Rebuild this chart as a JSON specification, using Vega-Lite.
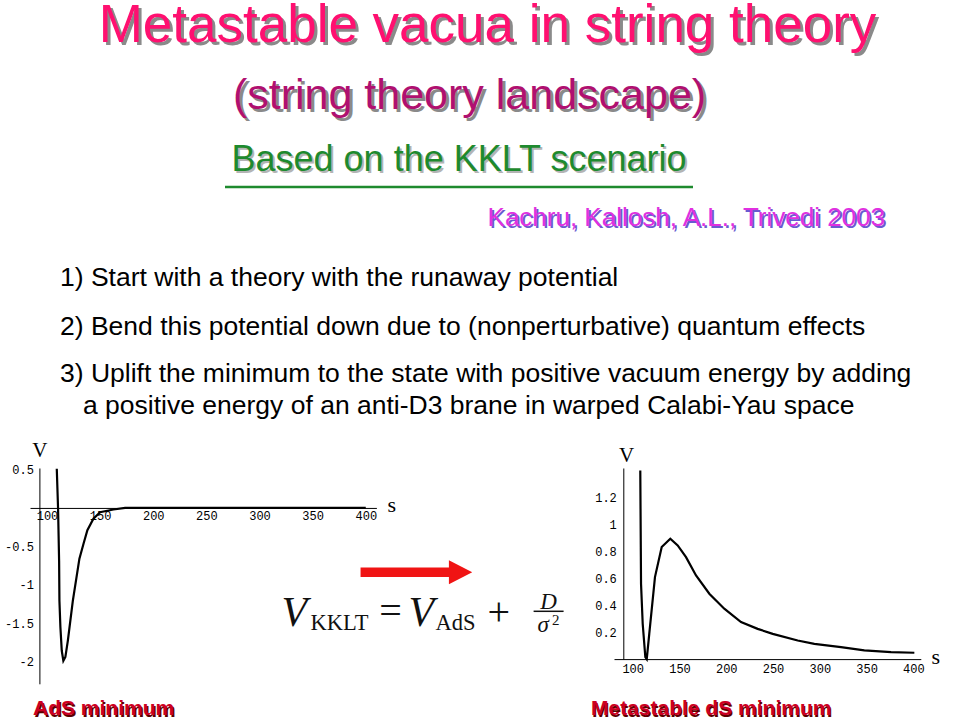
{
  "$schema": "https://vega.github.io/schema/vega-lite/v6.json",
  "background": "white",
  "padding": 0,
  "autosize": {"type": "pad"},
  "bounds": "flush",
  "spacing": 0,
  "columns": 4,
  "align": "each",
  "config": {
    "view": {"stroke": null},
    "title": {"offset": 0, "frame": "group", "font": "Liberation Sans", "fontWeight": "normal"}
  },
  "concat": [
    {"width": 30, "height": 56, "data": {"values": []}, "mark": "text"},
    {"width": 1, "height": 1, "data": {"values": []}, "mark": "text"},
    {"width": 1, "height": 1, "data": {"values": []}, "mark": "text"},
    {"width": 1, "height": 1, "data": {"values": []}, "mark": "text"},

    {"width": 30, "height": 65, "data": {"values": []}, "mark": "text",
     "title": {"text": "Metastable vacua in string theory", "fontSize": 53, "color": "#8a8a8a", "anchor": "middle", "dx": 475.5, "dy": 3}},
    {"width": 1, "height": 1, "data": {"values": []}, "mark": "text",
     "title": {"text": "Metastable vacua in string theory", "fontSize": 53, "color": "#ff1070", "anchor": "middle", "dx": 457}},
    {"width": 1, "height": 1, "data": {"values": []}, "mark": "text"},
    {"width": 1, "height": 1, "data": {"values": []}, "mark": "text"},

    {"width": 30, "height": 61, "data": {"values": []}, "mark": "text",
     "title": {"text": "(string theory landscape)", "fontSize": 43, "color": "#8a8a8a", "anchor": "middle", "dx": 457.5, "dy": 3}},
    {"width": 1, "height": 1, "data": {"values": []}, "mark": "text",
     "title": {"text": "(string theory landscape)", "fontSize": 43, "color": "#b01070", "anchor": "middle", "dx": 439}},
    {"width": 1, "height": 1, "data": {"values": []}, "mark": "text"},
    {"width": 1, "height": 1, "data": {"values": []}, "mark": "text"},

    {"width": 30, "height": 3, "data": {"values": []}, "mark": "text",
     "title": {"text": "Based on the KKLT scenario", "fontSize": 36, "color": "#b4b4b4", "anchor": "middle", "dx": 446, "dy": 2}},
    {"width": 1, "height": 1, "data": {"values": []}, "mark": "text",
     "title": {"text": "Based on the KKLT scenario", "fontSize": 36, "color": "#1e8a2e", "anchor": "middle", "dx": 428.5}},
    {"width": 1, "height": 1, "data": {"values": []}, "mark": "text"},
    {"width": 1, "height": 1, "data": {"values": []}, "mark": "text"},

    {"width": 30, "height": 48.5,
     "data": {"values": [{"part": "underline"}]},
     "mark": {"type": "rule", "color": "#1e8a2e", "strokeWidth": 2.5},
     "encoding": {
       "x": {"datum": 225, "type": "quantitative", "scale": {"domain": [0, 30], "nice": false, "zero": false}, "axis": null},
       "x2": {"datum": 693},
       "y": {"datum": 1, "type": "quantitative", "scale": {"domain": [0, 48.5], "nice": false, "zero": false, "reverse": true}, "axis": null}
     }},
    {"width": 1, "height": 1, "data": {"values": []}, "mark": "text"},
    {"width": 1, "height": 1, "data": {"values": []}, "mark": "text"},
    {"width": 1, "height": 1, "data": {"values": []}, "mark": "text"},

    {"width": 30, "height": 59.8, "data": {"values": []}, "mark": "text",
     "title": {"text": "Kachru, Kallosh, A.L., Trivedi 2003", "fontSize": 26, "color": "#6a5ad0", "anchor": "end", "dx": 857, "dy": 2}},
    {"width": 1, "height": 1, "data": {"values": []}, "mark": "text",
     "title": {"text": "Kachru, Kallosh, A.L., Trivedi 2003", "fontSize": 26, "color": "#e030e0", "anchor": "end", "dx": 854}},
    {"width": 1, "height": 1, "data": {"values": []}, "mark": "text"},
    {"width": 1, "height": 1, "data": {"values": []}, "mark": "text"},

    {"width": 30, "height": 48.4, "data": {"values": []}, "mark": "text",
     "title": {"text": "1) Start with a theory with the runaway potential", "fontSize": 26.5, "color": "#000000", "anchor": "start", "dx": 60}},
    {"width": 1, "height": 1, "data": {"values": []}, "mark": "text"},
    {"width": 1, "height": 1, "data": {"values": []}, "mark": "text"},
    {"width": 1, "height": 1, "data": {"values": []}, "mark": "text"},

    {"width": 30, "height": 46.6, "data": {"values": []}, "mark": "text",
     "title": {"text": "2) Bend this potential down due to (nonperturbative) quantum effects", "fontSize": 26.5, "color": "#000000", "anchor": "start", "dx": 60}},
    {"width": 1, "height": 1, "data": {"values": []}, "mark": "text"},
    {"width": 1, "height": 1, "data": {"values": []}, "mark": "text"},
    {"width": 1, "height": 1, "data": {"values": []}, "mark": "text"},

    {"width": 30, "height": 31.7, "data": {"values": []}, "mark": "text",
     "title": {"text": "3) Uplift the minimum to the state with positive vacuum energy by adding", "fontSize": 26.5, "color": "#000000", "anchor": "start", "dx": 60}},
    {"width": 1, "height": 1, "data": {"values": []}, "mark": "text"},
    {"width": 1, "height": 1, "data": {"values": []}, "mark": "text"},
    {"width": 1, "height": 1, "data": {"values": []}, "mark": "text"},

    {"width": 30, "height": 44.2, "data": {"values": []}, "mark": "text",
     "title": {"text": "a positive energy of an anti-D3 brane in warped Calabi-Yau space", "fontSize": 26.5, "color": "#000000", "anchor": "start", "dx": 83}},
    {"width": 1, "height": 1, "data": {"values": []}, "mark": "text"},
    {"width": 1, "height": 1, "data": {"values": []}, "mark": "text"},
    {"width": 1, "height": 1, "data": {"values": []}, "mark": "text"},

    {"width": 30, "height": 254.8, "data": {"values": []}, "mark": "text"},
    {
      "width": 346.4, "height": 215.8,
      "data": {"values": [
        {"s": 109.2, "V": 0.51}, {"s": 110.4, "V": 0.0}, {"s": 111.4, "V": -0.69}, {"s": 111.7, "V": -1.21},
        {"s": 112.6, "V": -1.55}, {"s": 113.9, "V": -1.86}, {"s": 115.4, "V": -1.99}, {"s": 117.3, "V": -1.94},
        {"s": 119.6, "V": -1.73}, {"s": 124.3, "V": -1.21}, {"s": 130.5, "V": -0.66}, {"s": 134.3, "V": -0.47},
        {"s": 138.0, "V": -0.29}, {"s": 143.7, "V": -0.14}, {"s": 150.0, "V": -0.055}, {"s": 162.5, "V": -0.02},
        {"s": 173.5, "V": 0.0}, {"s": 200, "V": 0.0}, {"s": 250, "V": 0.0}, {"s": 300, "V": 0.0},
        {"s": 350, "V": 0.0}, {"s": 400, "V": 0.0}
      ]},
      "mark": {"type": "line", "color": "#000000", "strokeWidth": 2.2},
      "encoding": {
        "x": {"field": "s", "type": "quantitative",
              "scale": {"domain": [84, 410], "nice": false, "zero": false},
              "axis": {"orient": "bottom", "offset": -175.87, "values": [100, 150, 200, 250, 300, 350, 400], "format": "d",
                       "grid": false, "ticks": false, "labelPadding": 3, "labelFont": "Liberation Mono", "labelFontSize": 12,
                       "labelColor": "#000000", "domainColor": "#000000", "labelOverlap": false, "labelFlush": false,
                       "title": "s", "titleFont": "Liberation Serif", "titleFontSize": 22, "titleFontWeight": "normal",
                       "titleColor": "#000000", "titleX": 357, "titleY": -3.5, "titleAlign": "left", "titleBaseline": "middle"}},
        "y": {"field": "V", "type": "quantitative",
              "scale": {"domain": [-2.29, 0.52], "nice": false, "zero": false},
              "axis": {"orient": "left", "offset": -9.4, "values": [0.5, -0.5, -1, -1.5, -2], "labelExpr": "toString(datum.value)",
                       "grid": false, "ticks": false, "labelPadding": 6, "labelFont": "Liberation Mono", "labelFontSize": 12,
                       "labelColor": "#000000", "domainColor": "#000000", "labelOverlap": false, "labelFlush": false,
                       "title": "V", "titleAngle": 0, "titleFont": "Liberation Serif", "titleFontSize": 21, "titleFontWeight": "normal",
                       "titleColor": "#000000", "titleX": 0, "titleY": -12, "titleAlign": "center", "titleBaseline": "alphabetic"}}
      }
    },
    {
      "width": 236.6, "height": 215.8,
      "layer": [
        {"data": {"values": [{"k": "arrow"}]},
         "mark": {"type": "point", "shape": "M-1,-0.084L0.582,-0.084L0.582,-0.215L1,0L0.582,0.215L0.582,0.084L-1,0.084Z",
                  "filled": true, "fill": "#f01414", "opacity": 1, "strokeWidth": 0, "size": 12477},
         "encoding": {
           "x": {"datum": 415.8, "type": "quantitative", "scale": {"domain": [376.4, 613], "nice": false, "zero": false}, "axis": null},
           "y": {"datum": 568.5, "type": "quantitative", "scale": {"domain": [464.2, 680], "nice": false, "zero": false, "reverse": true}, "axis": null}
         }},
        {"data": {"values": [{"t": "V"}]},
         "mark": {"type": "text", "font": "Liberation Serif", "fontStyle": "italic", "fontSize": 42, "align": "left", "baseline": "alphabetic", "color": "#111111"},
         "encoding": {"x": {"datum": 281, "type": "quantitative"}, "y": {"datum": 622, "type": "quantitative"}, "text": {"field": "t"}}},
        {"data": {"values": [{"t": "KKLT"}]},
         "mark": {"type": "text", "font": "Liberation Serif", "fontSize": 22.5, "align": "left", "baseline": "alphabetic", "color": "#111111"},
         "encoding": {"x": {"datum": 310, "type": "quantitative"}, "y": {"datum": 626, "type": "quantitative"}, "text": {"field": "t"}}},
        {"data": {"values": [{"t": "="}]},
         "mark": {"type": "text", "font": "Liberation Serif", "fontSize": 40, "align": "center", "baseline": "alphabetic", "color": "#111111"},
         "encoding": {"x": {"datum": 390, "type": "quantitative"}, "y": {"datum": 620, "type": "quantitative"}, "text": {"field": "t"}}},
        {"data": {"values": [{"t": "V"}]},
         "mark": {"type": "text", "font": "Liberation Serif", "fontStyle": "italic", "fontSize": 42, "align": "left", "baseline": "alphabetic", "color": "#111111"},
         "encoding": {"x": {"datum": 408, "type": "quantitative"}, "y": {"datum": 622, "type": "quantitative"}, "text": {"field": "t"}}},
        {"data": {"values": [{"t": "AdS"}]},
         "mark": {"type": "text", "font": "Liberation Serif", "fontSize": 22.5, "align": "left", "baseline": "alphabetic", "color": "#111111"},
         "encoding": {"x": {"datum": 435, "type": "quantitative"}, "y": {"datum": 626, "type": "quantitative"}, "text": {"field": "t"}}},
        {"data": {"values": [{"t": "+"}]},
         "mark": {"type": "text", "font": "Liberation Serif", "fontSize": 40, "align": "center", "baseline": "alphabetic", "color": "#111111"},
         "encoding": {"x": {"datum": 498.3, "type": "quantitative"}, "y": {"datum": 621, "type": "quantitative"}, "text": {"field": "t"}}},
        {"data": {"values": [{"t": "D"}]},
         "mark": {"type": "text", "font": "Liberation Serif", "fontStyle": "italic", "fontSize": 23, "align": "center", "baseline": "alphabetic", "color": "#111111"},
         "encoding": {"x": {"datum": 548, "type": "quantitative"}, "y": {"datum": 605, "type": "quantitative"}, "text": {"field": "t"}}},
        {"data": {"values": [{"t": "bar"}]},
         "mark": {"type": "rule", "color": "#111111", "strokeWidth": 1.5},
         "encoding": {"x": {"datum": 533, "type": "quantitative"}, "x2": {"datum": 563}, "y": {"datum": 607.5, "type": "quantitative"}}},
        {"data": {"values": [{"t": "σ"}]},
         "mark": {"type": "text", "font": "Liberation Serif", "fontStyle": "italic", "fontSize": 23, "align": "left", "baseline": "alphabetic", "color": "#111111"},
         "encoding": {"x": {"datum": 537, "type": "quantitative"}, "y": {"datum": 628, "type": "quantitative"}, "text": {"field": "t"}}},
        {"data": {"values": [{"t": "2"}]},
         "mark": {"type": "text", "font": "Liberation Serif", "fontSize": 15, "align": "left", "baseline": "alphabetic", "color": "#111111"},
         "encoding": {"x": {"datum": 551.5, "type": "quantitative"}, "y": {"datum": 621, "type": "quantitative"}, "text": {"field": "t"}}}
      ]
    },
    {
      "width": 306.8, "height": 191.1,
      "data": {"values": [
        {"s": 108.1, "V": 1.397}, {"s": 108.9, "V": 0.558}, {"s": 110.7, "V": 0.26}, {"s": 113.5, "V": 0.015},
        {"s": 115.0, "V": 0.0}, {"s": 117.7, "V": 0.187}, {"s": 123.8, "V": 0.607}, {"s": 131.0, "V": 0.83},
        {"s": 140.2, "V": 0.891}, {"s": 148.1, "V": 0.842}, {"s": 157.0, "V": 0.755}, {"s": 167.7, "V": 0.619},
        {"s": 181.9, "V": 0.484}, {"s": 197.9, "V": 0.373}, {"s": 215.8, "V": 0.274}, {"s": 233.6, "V": 0.224},
        {"s": 249.7, "V": 0.187}, {"s": 276.4, "V": 0.138}, {"s": 294.2, "V": 0.113}, {"s": 322.7, "V": 0.089},
        {"s": 347.6, "V": 0.064}, {"s": 376.2, "V": 0.052}, {"s": 401.1, "V": 0.047}
      ]},
      "mark": {"type": "line", "color": "#000000", "strokeWidth": 2.2},
      "encoding": {
        "x": {"field": "s", "type": "quantitative",
              "scale": {"domain": [80, 408], "nice": false, "zero": false},
              "axis": {"orient": "bottom", "values": [100, 150, 200, 250, 300, 350, 400], "format": "d",
                       "grid": false, "ticks": false, "labelPadding": 4, "labelFont": "Liberation Mono", "labelFontSize": 12,
                       "labelColor": "#000000", "domainColor": "#000000", "labelOverlap": false, "labelFlush": false,
                       "title": "s", "titleFont": "Liberation Serif", "titleFontSize": 22, "titleFontWeight": "normal",
                       "titleColor": "#000000", "titleX": 317, "titleY": -3, "titleAlign": "left", "titleBaseline": "middle"}},
        "y": {"field": "V", "type": "quantitative",
              "scale": {"domain": [0, 1.415], "nice": false, "zero": false},
              "axis": {"orient": "left", "offset": -9.3, "values": [0.2, 0.4, 0.6, 0.8, 1, 1.2], "labelExpr": "toString(datum.value)",
                       "grid": false, "ticks": false, "labelPadding": 7, "labelFont": "Liberation Mono", "labelFontSize": 12,
                       "labelColor": "#000000", "domainColor": "#000000", "labelOverlap": false, "labelFlush": false,
                       "title": "V", "titleAngle": 0, "titleFont": "Liberation Serif", "titleFontSize": 21, "titleFontWeight": "normal",
                       "titleColor": "#000000", "titleX": 2.7, "titleY": -7, "titleAlign": "center", "titleBaseline": "alphabetic"}}
      }
    },

    {"width": 30, "height": 1, "data": {"values": []}, "mark": "text",
     "title": {"text": "AdS minimum", "fontSize": 21, "fontWeight": "bold", "color": "#5a0000", "anchor": "start", "dx": 34.5, "dy": 1.5}},
    {"width": 1, "height": 1, "data": {"values": []}, "mark": "text",
     "title": {"text": "AdS minimum", "fontSize": 21, "fontWeight": "bold", "color": "#cc0022", "anchor": "start", "dx": 3}},
    {"width": 1, "height": 1, "data": {"values": []}, "mark": "text",
     "title": {"text": "Metastable dS minimum", "fontSize": 21, "fontWeight": "bold", "color": "#5a0000", "anchor": "start", "dx": 215.1, "dy": 1.5}},
    {"width": 1, "height": 1, "data": {"values": []}, "mark": "text",
     "title": {"text": "Metastable dS minimum", "fontSize": 21, "fontWeight": "bold", "color": "#cc0022", "anchor": "start", "dx": -23}}
  ]
}
